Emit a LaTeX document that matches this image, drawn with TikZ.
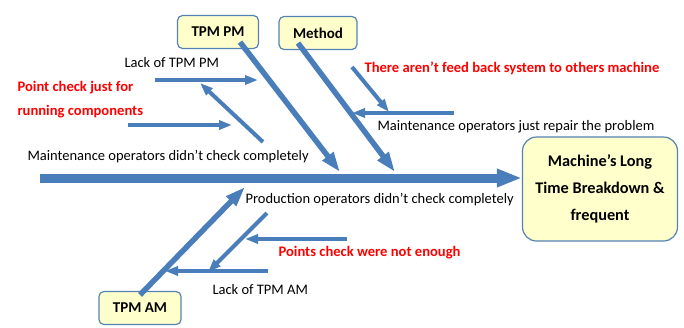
\documentclass[tikz,border=0pt]{standalone}
\usepackage{fontspec}
\setmainfont{Carlito}
\usetikzlibrary{arrows.meta,calc}
\definecolor{boneblue}{RGB}{74,126,187}
\definecolor{boxfill}{RGB}{255,255,204}
\definecolor{boxline}{RGB}{84,130,180}

\begin{document}
\begin{tikzpicture}[x=1pt,y=-1pt,
  cause/.style={draw=boxline,fill=boxfill,rounded corners=5pt,line width=1.2pt,font=\fontsize{15}{17}\selectfont\bfseries,minimum height=33pt,inner xsep=14pt},
  effect/.style={draw=boxline,fill=boxfill,rounded corners=14pt,line width=1.2pt,font=\fontsize{16.3}{27}\selectfont\bfseries,align=center,minimum width=155pt,minimum height=104pt},
  spine/.style={draw=boneblue,line width=9pt,-{Triangle[length=25pt,width=17pt]}},
  bone/.style={draw=boneblue,line width=5.5pt,-{Triangle[length=20pt,width=13pt]}},
  subbone/.style={draw=boneblue,line width=4pt,-{Triangle[length=13pt,width=9pt]}},
  lbl/.style={anchor=west,font=\fontsize{14.5}{16}\selectfont},
  why/.style={anchor=west,text=red,font=\fontsize{14.6}{24}\selectfont\bfseries,align=left}]
\useasboundingbox (0,0) rectangle (684,327);
\node[cause] (pm) at (218,32) {TPM PM};
\node[cause] (method) at (318,33) {Method};
\node[cause] (am) at (140,308) {TPM AM};
\node[effect] (effect) at (600,189) {Machine's Long\\Time Breakdown \&\\frequent};

\coordinate (tail) at (40,178);
\draw[spine] (tail) -- (tail -| effect.west);

\coordinate (pm-s) at ([xshift=22pt,yshift=7pt]pm.south);
\coordinate (pm-e) at (340,172);
\coordinate (me-s) at ([xshift=-20pt,yshift=7pt]method.south);
\coordinate (me-e) at (395,172);
\coordinate (am-s) at ([yshift=-4pt]am.north);
\coordinate (am-e) at (245,187);
\draw[bone] (pm-s) -- (pm-e);
\draw[bone] (me-s) -- (me-e);
\draw[bone] (am-s) -- (am-e);

\coordinate (a1) at (155,80);  \coordinate (b1) at (258,80);
\coordinate (a2) at (128,125); \coordinate (b2) at (232,125);
\coordinate (a3) at (263,142); \coordinate (b3) at (200,83);
\coordinate (a4) at (352,67);  \coordinate (b4) at (389,112);
\coordinate (a5) at (454,113); \coordinate (b5) at (352,113);
\coordinate (a6) at (267,213); \coordinate (b6) at (208,272);
\coordinate (a7) at (347,239); \coordinate (b7) at (245,239);
\coordinate (a8) at (268,271); \coordinate (b8) at (165,271);
\foreach \i in {1,...,8}
  \draw[subbone] (a\i) -- (b\i);

\node[lbl] (lackpm) at (121,63) {Lack of TPM PM};
\node[why] (running) at (14,100) {Point check just for\\running components};
\node[lbl] (maintchk) at (24,157) {Maintenance operators didn't check completely};
\node[why] (feedback) at (361,68) {There aren't feed back system to others machine};
\node[lbl] (repair) at (374,127) {Maintenance operators just repair the problem};
\node[lbl] (prodchk) at (242,200) {Production operators didn't check completely};
\node[why] (notenough) at (275,253) {Points check were not enough};
\node[lbl] (lackam) at (209,290) {Lack of TPM AM};
\end{tikzpicture}
\end{document}
